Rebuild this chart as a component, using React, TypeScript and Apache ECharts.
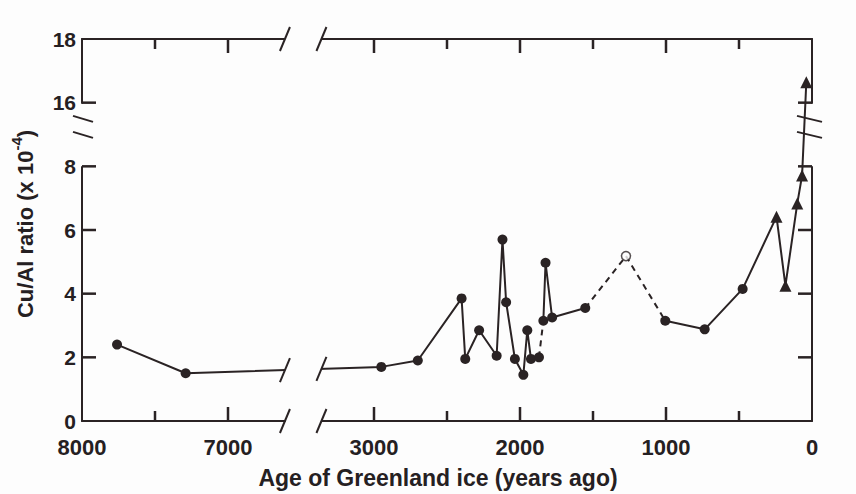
import React, { useEffect, useRef } from 'react';
import * as echarts from 'echarts';

// Filled-circle samples (age in years ago, Cu/Al ratio x 10^-4)
const circleAges = [7760, 7290, 2950, 2700, 2400, 2375, 2280, 2160, 2120, 2095, 2035, 1977, 1950, 1925, 1870, 1840, 1825, 1780, 1553, 1005, 735, 475];
const circleRatios = [2.4, 1.5, 1.7, 1.9, 3.85, 1.95, 2.85, 2.05, 5.7, 3.73, 1.95, 1.45, 2.85, 1.95, 2.0, 3.15, 4.97, 3.25, 3.55, 3.15, 2.88, 4.15];
// indices of circle samples whose link to the next sample is dashed
const dashedLinkAfter = [14, 18];
// open-circle sample (inside the dashed link after index 18)
const openAges = [1274];
const openRatios = [5.18];
const openAfterIndex = 18;
// triangle samples (recent ice)
const triangleAges = [243, 182, 101, 68, 39];
const triangleRatios = [6.42, 4.25, 6.83, 7.71, 16.64];

// axis ticks / labels
const xLabelValues = [8000, 7000, 3000, 2000, 1000, 0];
const xMajorTicks = [7000, 3000, 2000, 1000];
const xMinorTicks = [7500, 2500, 1500, 500];
const yTicks = [2, 4, 6, 8, 16];

// axis breaks
const xBreakStart = 3360;
const xBreakEnd = 6610;
const yBreakStart = 8;
const yBreakEnd = 16;

const INK = '#2a2324';
const TXT = '#252022';
const FONT = '"Liberation Sans", Arial, Helvetica, sans-serif';

export default function App() {
  const ref = useRef<HTMLDivElement>(null);
  useEffect(() => {
    if (!ref.current) return;
    const chart = echarts.init(ref.current, null, { renderer: 'svg' });

    const solid: any[] = [];
    circleAges.forEach((a, i) => {
      solid.push([a, circleRatios[i]]);
      if (dashedLinkAfter.includes(i)) solid.push(['-', '-']);
    });
    const dashed: any[] = [];
    dashedLinkAfter.forEach((i) => {
      dashed.push([circleAges[i], circleRatios[i]]);
      if (i === openAfterIndex) openAges.forEach((a, k) => dashed.push([a, openRatios[k]]));
      dashed.push([circleAges[i + 1], circleRatios[i + 1]]);
      dashed.push(['-', '-']);
    });
    const last = circleAges.length - 1;
    const tri: any[] = [{ value: [circleAges[last], circleRatios[last]], symbol: 'none' }];
    triangleAges.forEach((a, i) => tri.push([a, triangleRatios[i]]));

    const xBase = {
      type: 'value',
      min: 0,
      max: 8000,
      interval: 1000,
      inverse: true,
      breaks: [{ start: xBreakStart, end: xBreakEnd, gap: '5%' }],
      breakArea: {
        show: true,
        itemStyle: { color: '#fdfdfd', opacity: 1, borderWidth: 0, borderColor: 'rgba(0,0,0,0)' },
        zigzagAmplitude: 0,
        zigzagZ: 50,
        expandOnClick: false,
      },
      axisLine: { show: true, onZero: false, lineStyle: { color: INK, width: 2 } },
      axisTick: { show: false },
      minorTick: { show: false },
      axisLabel: { show: false },
      splitLine: { show: false },
      minorSplitLine: { show: false },
    };
    const yBase = {
      type: 'value',
      min: 0,
      max: 18,
      interval: 2,
      breaks: [{ start: yBreakStart, end: yBreakEnd, gap: 2 }],
      breakArea: { show: false, expandOnClick: false },
      axisLine: { show: true, onZero: false, lineStyle: { color: INK, width: 2 } },
      axisTick: { show: false },
      splitLine: { show: false },
    };

    const tickLine = (x1: number, y1: number, x2: number, y2: number) => ({
      type: 'line',
      shape: { x1, y1, x2, y2 },
      style: { stroke: INK, lineWidth: 2.5 },
      z2: 10,
    });
    const xTickSeries = (ticks: number[], len: number) => ({
      type: 'custom',
      coordinateSystem: 'cartesian2d',
      silent: true,
      clip: false,
      z: 20,
      data: ticks.map((v) => [v, 0]),
      renderItem: (params: any, api: any) => {
        const cs = params.coordSys;
        const x = api.coord([api.value(0), 0])[0];
        return {
          type: 'group',
          children: [tickLine(x, cs.y + cs.height, x, cs.y + cs.height - len), tickLine(x, cs.y, x, cs.y + len)],
        };
      },
    });
    const yTickSeries = {
      type: 'custom',
      coordinateSystem: 'cartesian2d',
      silent: true,
      clip: false,
      z: 20,
      data: yTicks.map((v) => [8000, v]),
      renderItem: (params: any, api: any) => {
        const cs = params.coordSys;
        const y = api.coord([8000, api.value(1)])[1];
        return {
          type: 'group',
          children: [tickLine(cs.x, y, cs.x + 14, y), tickLine(cs.x + cs.width - 14, y, cs.x + cs.width, y)],
        };
      },
    };

    const option: any = {
      animation: false,
      backgroundColor: '#fdfdfd',
      grid: { left: 82, right: 44, top: 39, bottom: 67 },
      xAxis: [
        {
          ...xBase,
          position: 'bottom',
          name: 'Age of Greenland ice (years ago)',
          nameLocation: 'middle',
          nameGap: 45,
          nameTextStyle: { color: TXT, fontSize: 23, fontWeight: 'bold', fontFamily: FONT, padding: [0, 18, 0, 0] },
        },
        { ...xBase, position: 'top' },
      ],
      yAxis: [
        {
          ...yBase,
          position: 'left',
          axisLabel: {
            show: true,
            margin: 6,
            color: TXT,
            fontSize: 21,
            fontWeight: 'bold',
            fontFamily: FONT,
            formatter: (v: number) => String(Math.round(v)),
          },
          name: '{t|Cu/Al ratio (x 10}{s|-4}{t|)}',
          nameLocation: 'middle',
          nameGap: 46,
          nameTextStyle: {
            color: TXT,
            padding: [0, 0, 0, 12],
            rich: {
              t: { fontSize: 22, fontWeight: 'bold', fontFamily: FONT, color: TXT, lineHeight: 27, verticalAlign: 'bottom' },
              s: { fontSize: 15, fontWeight: 'bold', fontFamily: FONT, color: TXT, lineHeight: 27, verticalAlign: 'top' },
            },
          },
        },
        { ...yBase, position: 'right', axisLabel: { show: false } },
      ],
      series: [
        { type: 'line', data: solid, connectNulls: false, symbol: 'circle', symbolSize: 10, showAllSymbol: true, itemStyle: { color: INK }, lineStyle: { color: INK, width: 2 }, z: 3 },
        { type: 'line', data: dashed, connectNulls: false, showSymbol: false, symbol: 'none', lineStyle: { color: INK, width: 2, type: [6, 5] }, z: 2 },
        { type: 'scatter', data: openAges.map((a, i) => [a, openRatios[i]]), symbol: 'circle', symbolSize: 9, itemStyle: { color: '#fdfdfd', borderColor: INK, borderWidth: 1.5 }, z: 4 },
        { type: 'line', data: tri, symbol: 'triangle', symbolSize: 12, showAllSymbol: true, itemStyle: { color: INK }, lineStyle: { color: INK, width: 2 }, z: 3 },
        xTickSeries(xMajorTicks, 14),
        xTickSeries(xMinorTicks, 10),
        yTickSeries,
      ],
    };
    chart.setOption(option);

    // x labels and break marks, placed through the chart's own scales
    const px = (x: number) => chart.convertToPixel({ xAxisIndex: 0 }, x) as number;
    const py = (y: number) => chart.convertToPixel({ yAxisIndex: 0 }, y) as number;
    const xl = px(xBreakEnd);
    const xr = px(xBreakStart);
    const yTop = py(18);
    const yBot = py(0);
    const xLeft = px(8000);
    const xRight = px(0);
    const p1 = chart.convertToPixel({ seriesIndex: 0 }, [circleAges[1], circleRatios[1]]) as number[];
    const p2 = chart.convertToPixel({ seriesIndex: 0 }, [circleAges[2], circleRatios[2]]) as number[];
    const lineY = (x: number) => p1[1] + ((p2[1] - p1[1]) * (x - p1[0])) / (p2[0] - p1[0]);
    const seg = (x1: number, y1: number, x2: number, y2: number) => ({
      type: 'line',
      shape: { x1, y1, x2, y2 },
      style: { stroke: INK, lineWidth: 2 },
      z: 100,
    });
    const graphic: any[] = [];
    xLabelValues.forEach((v) => {
      graphic.push({
        type: 'text',
        x: px(v),
        y: yBot + 15,
        z: 100,
        style: { text: String(v), fill: TXT, font: `bold 22px ${FONT}`, textAlign: 'center', textVerticalAlign: 'top' },
      });
    });
    [xl, xr].forEach((x) => {
      [yTop, yBot, lineY(x)].forEach((y) => graphic.push(seg(x - 5, y + 12, x + 5, y - 12)));
    });
    const y8 = py(8);
    const y16 = py(16);
    const c = y16 + 0.38 * (y8 - y16);
    [c - 8, c + 8].forEach((y) => {
      graphic.push(seg(xLeft - 9, y - 3, xLeft + 11, y + 3));
      graphic.push(seg(xRight - 15, y - 3, xRight + 10, y + 3));
    });
    chart.setOption({ graphic });

    return () => chart.dispose();
  }, []);
  return <div ref={ref} style={{ position: 'fixed', left: 0, top: 0, width: 856, height: 494 }} />;
}
